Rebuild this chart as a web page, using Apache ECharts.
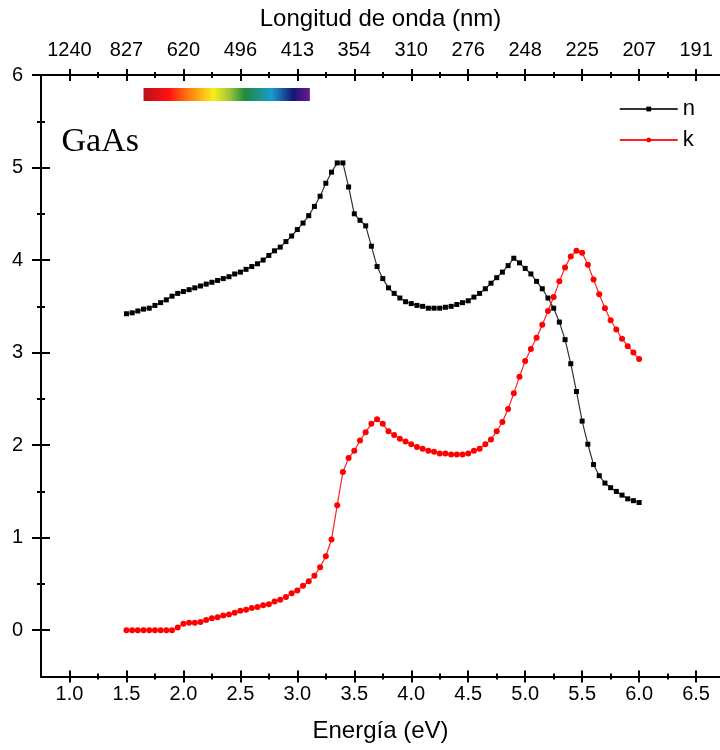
<!DOCTYPE html>
<html>
<head>
<meta charset="utf-8">
<script src="https://cdn.jsdelivr.net/npm/echarts@6/dist/echarts.min.js"></script>
<style>
  html, body { margin: 0; padding: 0; background: #fff; }
  #chart { width: 720px; height: 750px; }
</style>
</head>
<body>
<div id="chart"></div>
<script>
// ---- data ----
const energy = [
  1.50,1.55,1.60,1.65,1.70,1.75,1.80,1.85,1.90,1.95,
  2.00,2.05,2.10,2.15,2.20,2.25,2.30,2.35,2.40,2.45,
  2.50,2.55,2.60,2.65,2.70,2.75,2.80,2.85,2.90,2.95,
  3.00,3.05,3.10,3.15,3.20,3.25,3.30,3.35,3.40,3.45,
  3.50,3.55,3.60,3.65,3.70,3.75,3.80,3.85,3.90,3.95,
  4.00,4.05,4.10,4.15,4.20,4.25,4.30,4.35,4.40,4.45,
  4.50,4.55,4.60,4.65,4.70,4.75,4.80,4.85,4.90,4.95,
  5.00,5.05,5.10,5.15,5.20,5.25,5.30,5.35,5.40,5.45,
  5.50,5.55,5.60,5.65,5.70,5.75,5.80,5.85,5.90,5.95,
  6.00
];
const nValues = [
  3.42,3.43,3.45,3.47,3.48,3.51,3.54,3.57,3.61,3.64,
  3.66,3.68,3.70,3.72,3.74,3.76,3.78,3.80,3.82,3.85,
  3.87,3.90,3.93,3.96,4.00,4.05,4.10,4.14,4.20,4.26,
  4.33,4.40,4.48,4.58,4.69,4.83,4.95,5.05,5.05,4.79,
  4.50,4.43,4.37,4.15,3.93,3.80,3.70,3.64,3.59,3.55,
  3.53,3.51,3.50,3.48,3.48,3.48,3.49,3.50,3.52,3.54,
  3.56,3.60,3.64,3.69,3.75,3.81,3.87,3.94,4.02,3.97,
  3.91,3.85,3.77,3.69,3.59,3.48,3.33,3.14,2.88,2.58,
  2.26,2.01,1.79,1.67,1.59,1.54,1.50,1.46,1.42,1.40,
  1.38
];
const kValues = [
  0.00,0.00,0.00,0.00,0.00,0.00,0.00,0.00,0.00,0.03,
  0.07,0.08,0.08,0.09,0.11,0.13,0.14,0.16,0.17,0.19,
  0.21,0.22,0.24,0.25,0.27,0.28,0.31,0.33,0.36,0.40,
  0.43,0.48,0.53,0.59,0.68,0.80,0.98,1.35,1.71,1.86,
  1.94,2.05,2.14,2.23,2.28,2.23,2.15,2.11,2.07,2.04,
  2.01,1.98,1.96,1.94,1.93,1.91,1.91,1.90,1.90,1.90,
  1.91,1.94,1.96,2.01,2.06,2.15,2.25,2.39,2.56,2.74,
  2.91,3.04,3.16,3.30,3.45,3.60,3.77,3.92,4.04,4.10,
  4.08,3.95,3.79,3.63,3.48,3.35,3.25,3.15,3.07,3.00,
  2.93
];
const energyTicks = [1.0,1.5,2.0,2.5,3.0,3.5,4.0,4.5,5.0,5.5,6.0,6.5];
const energyMinorTicks = [1.25,1.75,2.25,2.75,3.25,3.75,4.25,4.75,5.25,5.75,6.25];
const wavelengthLabels = ['1240','827','620','496','413','354','310','276','248','225','207','191'];
const yTicks = [0,1,2,3,4,5,6];
const yMinorTicks = [0.5,1.5,2.5,3.5,4.5,5.5];
const seriesNames = ['n','k'];
const materialLabel = 'GaAs';
const xTitle = 'Energía (eV)';
const topTitle = 'Longitud de onda (nm)';
const visibleRange = [1.65, 3.11]; // energy span of the colour bar (eV)

// ---- chart ----
const FONT = 'Liberation Sans';
const X_MIN = 0.75, X_MAX = 6.71, Y_MIN = -0.5, Y_MAX = 6;
const chart = echarts.init(document.getElementById('chart'), null, {renderer: 'canvas'});

const tickStyle = {color: '#000', width: 2};
const gridBox = {left: 41, right: 0, top: 75, bottom: 73.5, containLabel: false};

// Grid 0: main axes (line, labels, outward major ticks)
// Grid 1: inward major ticks; Grid 2: outward minor ticks; Grid 3: inward minor ticks
const tickLayers = [
  {inside: false, xLen: 6, yLen: 9, xVals: energyTicks, yVals: yTicks},
  {inside: true,  xLen: 6, yLen: 9, xVals: energyTicks, yVals: yTicks},
  {inside: false, xLen: 3, yLen: 4, xVals: energyMinorTicks, yVals: yMinorTicks},
  {inside: true,  xLen: 3, yLen: 4, xVals: energyMinorTicks, yVals: yMinorTicks}
];

const grids = [], xAxes = [], yAxes = [];
tickLayers.forEach((layer, gi) => {
  grids.push(Object.assign({}, gridBox));
  ['bottom', 'top'].forEach(pos => {
    const isTop = pos === 'top';
    const ax = {
      type: 'value', gridIndex: gi, position: pos, min: X_MIN, max: X_MAX,
      splitLine: {show: false},
      axisLine: {show: gi === 0, onZero: false, lineStyle: {color: '#000', width: 2}},
      axisTick: {show: true, inside: layer.inside, length: layer.xLen, customValues: layer.xVals, lineStyle: tickStyle},
      axisLabel: {show: false}
    };
    if (gi === 0) {
      ax.axisLabel = {
        show: true, customValues: energyTicks, color: '#000', fontFamily: FONT, fontSize: 20,
        margin: isTop ? 15 : 8,
        formatter: function (v) {
          if (isTop) {
            const i = energyTicks.findIndex(t => Math.abs(t - v) < 1e-6);
            return i >= 0 ? wavelengthLabels[i] : '';
          }
          return v.toFixed(1);
        }
      };
      ax.name = isTop ? topTitle : xTitle;
      ax.nameLocation = 'middle';
      ax.nameGap = isTop ? 44 : 43;
      ax.nameTextStyle = {color: '#000', fontFamily: FONT, fontSize: 24};
    }
    xAxes.push(ax);
  });
  const ay = {
    type: 'value', gridIndex: gi, position: 'left', min: Y_MIN, max: Y_MAX,
    splitLine: {show: false},
    axisLine: {show: gi === 0, onZero: false, lineStyle: {color: '#000', width: 2}},
    axisTick: {show: true, inside: layer.inside, length: layer.yLen, customValues: layer.yVals, lineStyle: tickStyle},
    axisLabel: {show: false}
  };
  if (gi === 0) {
    ay.axisLabel = {show: true, customValues: yTicks, color: '#000', fontFamily: FONT, fontSize: 20, margin: 18};
  }
  yAxes.push(ay);
});

function pairs(xs, ys) { return xs.map((x, i) => [x, ys[i]]); }

chart.setOption({
  animation: false,
  backgroundColor: '#fff',
  grid: grids,
  xAxis: xAxes,
  yAxis: yAxes,
  legend: {
    orient: 'vertical', right: 20, top: 93,
    itemWidth: 58, itemHeight: 6, itemGap: 9,
    textStyle: {color: '#000', fontFamily: FONT, fontSize: 22},
    data: seriesNames
  },
  series: [
    {
      name: seriesNames[0], type: 'line', xAxisIndex: 0, yAxisIndex: 0,
      data: pairs(energy, nValues),
      symbol: 'rect', symbolSize: 5, showAllSymbol: true,
      lineStyle: {color: '#333', width: 1.2},
      itemStyle: {color: '#000'}
    },
    {
      name: seriesNames[1], type: 'line', xAxisIndex: 0, yAxisIndex: 0,
      data: pairs(energy, kValues),
      symbol: 'circle', symbolSize: 6, showAllSymbol: true,
      lineStyle: {color: '#ff2020', width: 1.2},
      itemStyle: {color: '#ff0000'}
    }
  ]
});

// decorations positioned through the chart's own coordinate conversion
const p0 = chart.convertToPixel({gridIndex: 0}, [visibleRange[0], 5.86]);
const p1 = chart.convertToPixel({gridIndex: 0}, [visibleRange[1], 5.72]);
const g0 = chart.convertToPixel({gridIndex: 0}, [0.93, 5.09]);
chart.setOption({
  graphic: [
    {
      type: 'rect', silent: true,
      shape: {x: p0[0], y: p0[1], width: p1[0] - p0[0], height: p1[1] - p0[1]},
      style: {
        fill: new echarts.graphic.LinearGradient(0, 0, 1, 0, [
          {offset: 0.00, color: '#b8101a'},
          {offset: 0.15, color: '#ff1010'},
          {offset: 0.27, color: '#ff7a10'},
          {offset: 0.42, color: '#f7ee1a'},
          {offset: 0.52, color: '#9cc43a'},
          {offset: 0.61, color: '#1e8a40'},
          {offset: 0.77, color: '#1a9ccc'},
          {offset: 0.90, color: '#15157a'},
          {offset: 1.00, color: '#6a1a8c'}
        ])
      }
    },
    {
      type: 'text', silent: true,
      x: g0[0], y: g0[1],
      style: {
        text: materialLabel, fill: '#000',
        font: '34px "Liberation Serif", serif',
        textVerticalAlign: 'bottom', verticalAlign: 'bottom'
      }
    }
  ]
});
</script>
</body>
</html>
